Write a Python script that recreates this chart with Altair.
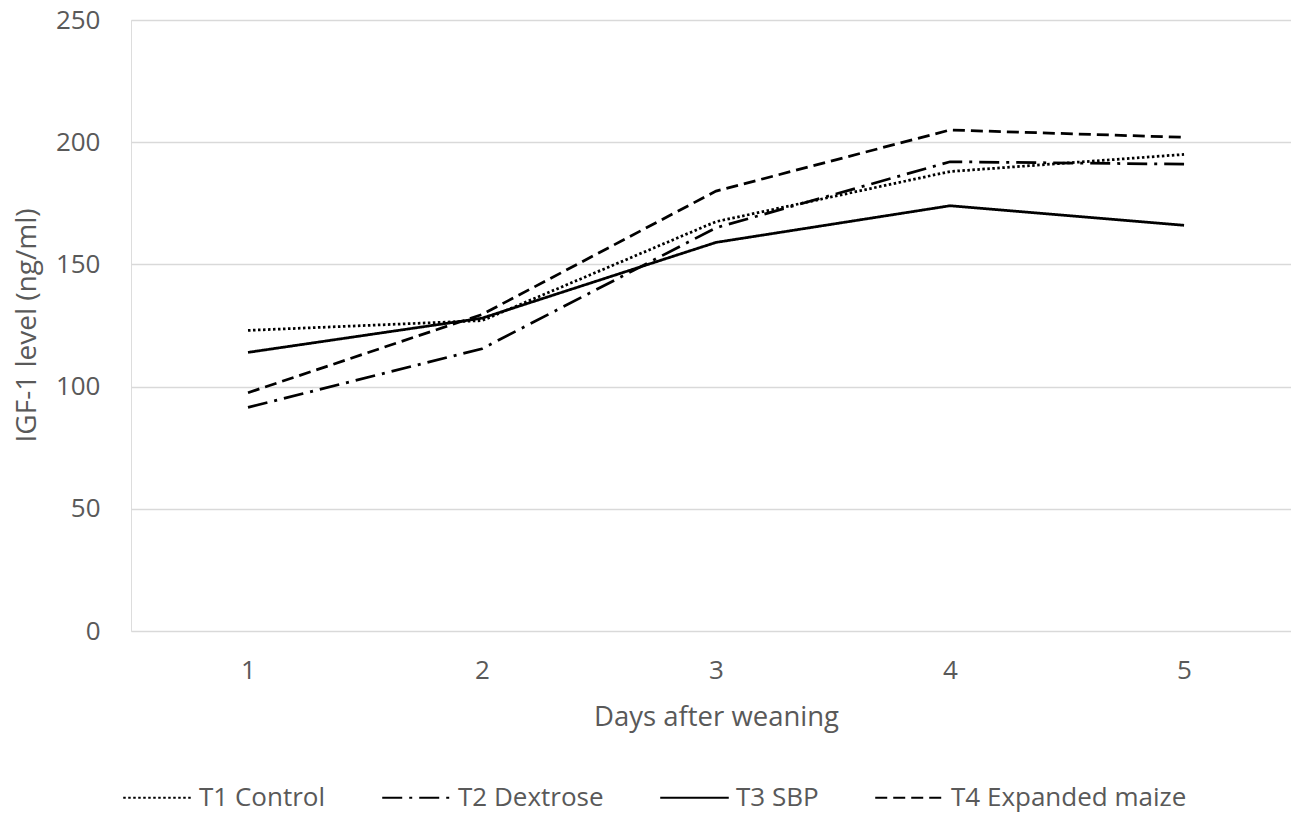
import altair as alt
import pandas as pd

days = [1, 2, 3, 4, 5]
series = ["T1 Control", "T2 Dextrose", "T3 SBP", "T4 Expanded maize"]
t1_control = [123, 127, 167.5, 188, 195]
t2_dextrose = [91.5, 115.5, 165, 192, 191]
t3_sbp = [114, 128, 159, 174, 166]
t4_maize = [97.5, 129.5, 180, 205, 202]
y_ticks = [0, 50, 100, 150, 200, 250]

values = [t1_control, t2_dextrose, t3_sbp, t4_maize]
rows = []
for name, vals in zip(series, values):
    for d, v in zip(days, vals):
        rows.append({"day": d, "value": v, "series": name})
df = pd.DataFrame(rows)

FONT = "Open Sans"
GREY = "#595959"

dashes = [[2.5, 2.5], [20, 7, 3, 7], [1, 0], [12, 6]]

chart = alt.Chart(df).mark_line(color="black", strokeWidth=2.75, strokeCap="butt").encode(
    x=alt.X("day:Q",
            scale=alt.Scale(domain=[0.5, 5.457], nice=False, zero=False),
            axis=alt.Axis(values=days, format="d", grid=False, ticks=False, domain=False,
                          labelFontSize=26, labelColor=GREY, labelFont=FONT, labelPadding=26,
                          title="Days after weaning", titleFontSize=27.5, titleFont=FONT,
                          titleColor=GREY, titleFontWeight="normal",
                          titleX=585, titleY=86, titleBaseline="middle")),
    y=alt.Y("value:Q",
            scale=alt.Scale(domain=[0, 250], nice=False),
            axis=alt.Axis(values=y_ticks, grid=True, gridColor="#d9d9d9", gridWidth=1.5,
                          ticks=False, domain=False,
                          labelFontSize=26, labelColor=GREY, labelFont=FONT, labelPadding=31,
                          title="IGF-1 level (ng/ml)", titleFontSize=28, titleFont=FONT,
                          titleColor=GREY, titleFontWeight="normal",
                          titleX=-104, titleY=305, titleBaseline="middle", titleAngle=-90)),
    strokeDash=alt.StrokeDash("series:N",
                              scale=alt.Scale(domain=series, range=dashes),
                              legend=alt.Legend(orient="none", legendX=-9, legendY=742,
                                                direction="horizontal", title=None,
                                                symbolType="stroke", symbolSize=4700,
                                                symbolStrokeWidth=2, symbolStrokeColor="black",
                                                labelFontSize=26, labelFont=FONT, labelColor=GREY,
                                                labelLimit=500,
                                                labelOffset=6, columnPadding=52)),
).properties(
    width=1160, height=611,
    autosize=alt.AutoSizeParams(type="none"),
    padding={"left": 131, "top": 20, "right": 0, "bottom": 182},
).configure_view(stroke=None).configure(background="white")

chart.save("out.html", embed_options={"renderer": "svg", "actions": False})
